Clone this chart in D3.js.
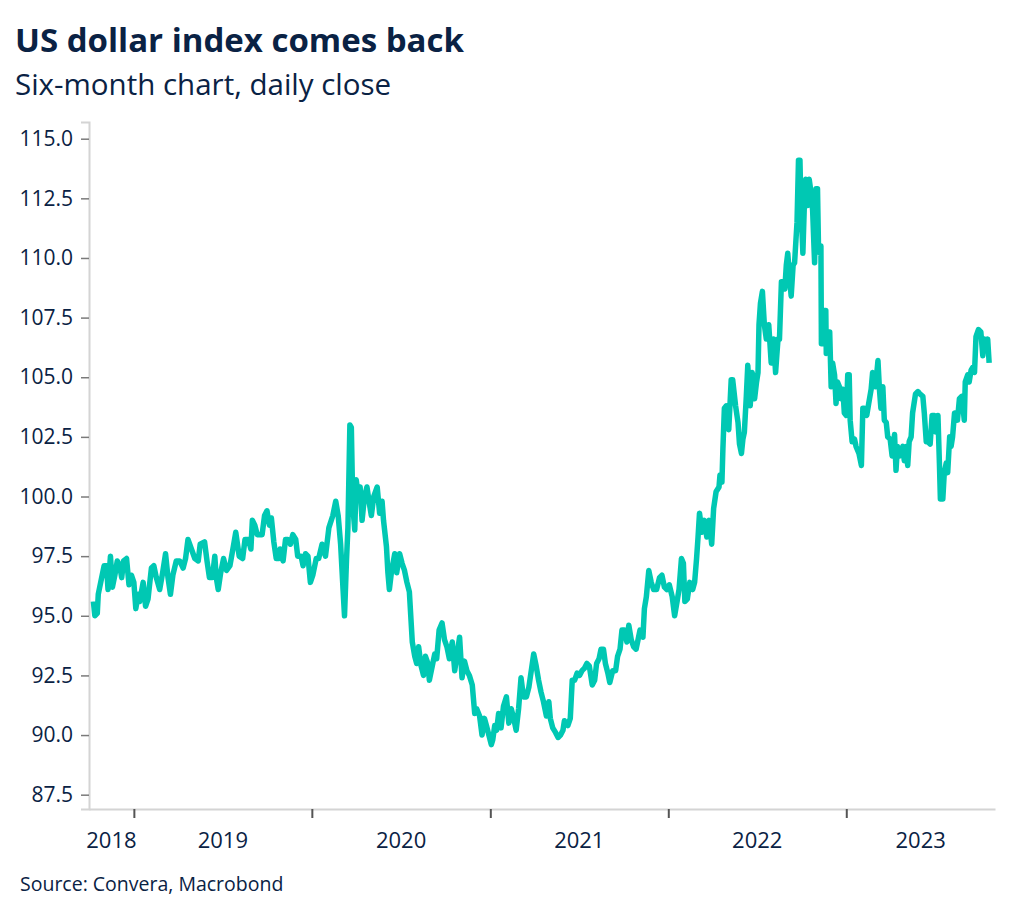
<!DOCTYPE html>
<html>
<head>
<meta charset="utf-8">
<script src="https://cdn.jsdelivr.net/npm/d3@7"></script>
<style>
  html, body { margin: 0; padding: 0; background: #ffffff; }
  svg { display: block; }
</style>
</head>
<body>
<svg id="chart" width="1024" height="916"></svg>
<script>
const title = "US dollar index comes back";
const subtitle = "Six-month chart, daily close";
const source = "Source: Convera, Macrobond";

const yTicks = [87.5, 90.0, 92.5, 95.0, 97.5, 100.0, 102.5, 105.0, 107.5, 110.0, 112.5, 115.0];
const xTickDates = ["2019-01-01", "2020-01-01", "2021-01-01", "2022-01-01", "2023-01-01"];
const xLabelYears = [2018, 2019, 2020, 2021, 2022, 2023];
const xDomain = ["2018-10-01", "2023-11-02"];
const yDomain = [86.9, 115.7];

const dates = [
"2018-10-10","2018-10-13","2018-10-18","2018-10-20","2018-10-27","2018-11-01","2018-11-06","2018-11-09","2018-11-14","2018-11-18",
"2018-11-23","2018-11-28","2018-12-03","2018-12-07","2018-12-11","2018-12-17","2018-12-22","2018-12-27","2019-01-01","2019-01-05",
"2019-01-10","2019-01-13","2019-01-20","2019-01-25","2019-01-30","2019-02-06","2019-02-11","2019-02-16","2019-02-23","2019-03-01",
"2019-03-07","2019-03-12","2019-03-17","2019-03-22","2019-03-29","2019-04-05","2019-04-12","2019-04-17","2019-04-22","2019-04-29",
"2019-05-06","2019-05-13","2019-05-17","2019-05-26","2019-05-31","2019-06-05","2019-06-11","2019-06-16","2019-06-19","2019-06-23",
"2019-06-28","2019-07-04","2019-07-10","2019-07-17","2019-07-24","2019-07-29","2019-08-05","2019-08-12","2019-08-17","2019-08-24",
"2019-08-29","2019-09-01","2019-09-06","2019-09-11","2019-09-16","2019-09-21","2019-09-26","2019-10-01","2019-10-06","2019-10-10",
"2019-10-15","2019-10-20","2019-10-26","2019-10-28","2019-11-03","2019-11-08","2019-11-13","2019-11-18","2019-11-23","2019-11-29",
"2019-12-03","2019-12-10","2019-12-14","2019-12-19","2019-12-24","2019-12-29","2020-01-03","2020-01-10","2020-01-15","2020-01-22",
"2020-01-29","2020-02-05","2020-02-13","2020-02-19","2020-02-24","2020-02-29","2020-03-05","2020-03-08","2020-03-12","2020-03-15",
"2020-03-19","2020-03-22","2020-03-25","2020-03-29","2020-04-01","2020-04-06","2020-04-09","2020-04-13","2020-04-18","2020-04-23",
"2020-04-28","2020-05-02","2020-05-07","2020-05-14","2020-05-19","2020-05-24","2020-05-27","2020-06-02","2020-06-05","2020-06-08",
"2020-06-12","2020-06-19","2020-06-23","2020-06-29","2020-07-04","2020-07-09","2020-07-14","2020-07-19","2020-07-25","2020-07-30",
"2020-08-03","2020-08-07","2020-08-12","2020-08-17","2020-08-21","2020-08-26","2020-08-29","2020-09-04","2020-09-09","2020-09-13",
"2020-09-18","2020-09-24","2020-09-29","2020-10-04","2020-10-09","2020-10-15","2020-10-20","2020-10-25","2020-10-30","2020-11-04",
"2020-11-09","2020-11-14","2020-11-19","2020-11-25","2020-11-30","2020-12-04","2020-12-10","2020-12-15","2020-12-20","2020-12-24",
"2020-12-29","2021-01-03","2021-01-06","2021-01-10","2021-01-14","2021-01-18","2021-01-23","2021-01-28","2021-02-03","2021-02-08",
"2021-02-13","2021-02-18","2021-02-23","2021-02-28","2021-03-05","2021-03-10","2021-03-16","2021-03-21","2021-03-26","2021-03-31",
"2021-04-05","2021-04-10","2021-04-15","2021-04-20","2021-04-26","2021-05-01","2021-05-04","2021-05-09","2021-05-15","2021-05-20",
"2021-05-25","2021-05-30","2021-06-02","2021-06-09","2021-06-14","2021-06-18","2021-06-23","2021-06-28","2021-07-03","2021-07-08",
"2021-07-13","2021-07-18","2021-07-23","2021-07-29","2021-08-03","2021-08-07","2021-08-12","2021-08-16","2021-08-21","2021-08-25",
"2021-08-30","2021-09-03","2021-09-09","2021-09-15","2021-09-19","2021-09-24","2021-09-28","2021-10-03","2021-10-08","2021-10-12",
"2021-10-17","2021-10-22","2021-10-27","2021-10-31","2021-11-04","2021-11-10","2021-11-13","2021-11-17","2021-11-22","2021-11-27",
"2021-12-02","2021-12-08","2021-12-14","2021-12-19","2021-12-24","2021-12-29","2022-01-03","2022-01-09","2022-01-14","2022-01-19",
"2022-01-23","2022-01-28","2022-02-01","2022-02-04","2022-02-09","2022-02-14","2022-02-20","2022-02-24","2022-02-28","2022-03-03",
"2022-03-06","2022-03-11","2022-03-16","2022-03-21","2022-03-26","2022-03-31","2022-04-04","2022-04-09","2022-04-15","2022-04-17",
"2022-04-21","2022-04-23","2022-04-26","2022-04-30","2022-05-05","2022-05-10","2022-05-13","2022-05-19","2022-05-24","2022-05-27",
"2022-05-31","2022-06-03","2022-06-06","2022-06-10","2022-06-13","2022-06-18","2022-06-22","2022-06-27","2022-07-01","2022-07-04",
"2022-07-06","2022-07-09","2022-07-13","2022-07-17","2022-07-21","2022-07-26","2022-07-31","2022-08-05","2022-08-09","2022-08-14",
"2022-08-17","2022-08-21","2022-08-24","2022-08-28","2022-08-31","2022-09-03","2022-09-07","2022-09-10","2022-09-14","2022-09-17",
"2022-09-22","2022-09-25","2022-09-28","2022-09-30","2022-10-04","2022-10-07","2022-10-10","2022-10-14","2022-10-17","2022-10-21",
"2022-10-24","2022-10-28","2022-10-31","2022-11-03","2022-11-05","2022-11-08","2022-11-10","2022-11-11","2022-11-13","2022-11-17",
"2022-11-20","2022-11-21","2022-11-26","2022-11-28","2022-12-01","2022-12-04","2022-12-08","2022-12-11","2022-12-14","2022-12-18",
"2022-12-21","2022-12-25","2022-12-28","2023-01-01","2023-01-04","2023-01-07","2023-01-09","2023-01-13","2023-01-18","2023-01-21",
"2023-01-27","2023-02-01","2023-02-04","2023-02-07","2023-02-12","2023-02-16","2023-02-21","2023-02-24","2023-03-02","2023-03-07",
"2023-03-10","2023-03-13","2023-03-17","2023-03-20","2023-03-24","2023-03-27","2023-04-01","2023-04-05","2023-04-10","2023-04-13",
"2023-04-16","2023-04-21","2023-04-27","2023-04-30","2023-05-04","2023-05-07","2023-05-10","2023-05-14","2023-05-17","2023-05-23",
"2023-05-28","2023-06-01","2023-06-07","2023-06-10","2023-06-14","2023-06-17","2023-06-22","2023-06-26","2023-07-01","2023-07-04",
"2023-07-08","2023-07-11","2023-07-13","2023-07-18","2023-07-21","2023-07-25","2023-07-28","2023-08-01","2023-08-04","2023-08-07",
"2023-08-11","2023-08-14","2023-08-17","2023-08-21","2023-08-26","2023-08-31","2023-09-02","2023-09-07","2023-09-10","2023-09-14",
"2023-09-17","2023-09-21","2023-09-24","2023-09-29","2023-10-04","2023-10-08","2023-10-11","2023-10-14","2023-10-18","2023-10-21"
];

const values = [
95.6,95.0,95.1,95.9,96.6,97.1,97.1,96.1,97.5,96.2,
96.7,97.3,97.1,96.6,97.3,97.4,96.3,96.7,96.4,95.3,
95.9,95.6,96.4,95.4,95.7,97.0,97.1,96.6,96.1,96.8,
97.6,96.6,95.9,96.7,97.3,97.3,97.0,97.4,98.2,97.8,
97.4,97.3,98.0,98.1,97.3,96.6,96.6,97.5,96.6,96.1,
96.8,97.4,96.9,97.1,97.9,98.5,97.5,97.4,98.2,98.2,
97.8,99.0,98.8,98.4,98.4,98.4,99.2,99.4,98.8,99.1,
98.1,97.4,97.4,97.8,97.3,98.2,98.2,98.0,98.4,98.2,
97.5,97.5,97.1,97.6,97.5,96.4,96.7,97.4,97.4,98.0,
97.5,98.7,99.2,99.8,99.2,98.0,96.1,95.0,97.3,98.7,
103.0,102.9,99.6,98.6,100.7,99.9,100.4,99.0,100.0,100.4,
99.7,99.2,100.0,100.4,99.3,99.8,99.0,97.9,96.8,96.1,
96.8,97.6,96.8,97.6,97.2,96.9,96.4,96.0,93.9,93.3,
93.0,93.7,92.9,92.5,93.3,93.0,92.3,92.9,93.4,93.2,
94.4,94.7,94.0,93.7,93.2,93.9,92.7,93.4,94.1,92.4,
93.1,92.7,92.5,92.1,90.9,91.1,90.8,90.0,90.7,90.4,
90.0,89.6,89.8,90.4,90.2,90.9,90.3,91.2,91.6,90.5,
91.1,90.7,90.2,91.1,92.4,91.6,91.6,92.0,92.7,93.4,
92.9,92.3,91.8,91.4,90.8,91.4,90.7,90.3,90.1,89.9,
90.0,90.2,90.6,90.4,90.7,92.3,92.3,92.6,92.5,92.7,
92.8,93.0,92.9,92.1,92.3,93.0,93.2,93.6,93.6,93.0,
92.6,92.2,92.7,92.7,93.3,93.6,94.4,94.4,93.9,94.6,
94.0,93.7,93.6,94.0,94.4,94.1,95.3,95.8,96.9,96.4,
96.1,96.1,96.6,96.7,96.2,96.1,96.3,95.8,95.0,95.6,
96.1,97.4,97.2,95.6,95.7,96.4,96.1,96.4,97.4,98.3,
99.3,98.5,99.0,98.3,99.0,98.0,99.5,100.2,100.4,100.9,
100.6,102.0,103.7,103.8,102.8,104.9,104.9,103.8,103.1,102.2,
101.8,102.4,102.7,104.2,105.5,103.8,105.2,104.1,104.8,105.2,
107.2,108.1,108.6,107.2,106.6,107.2,105.6,106.6,105.2,106.6,
106.6,109.0,109.0,108.7,109.7,110.2,109.1,108.4,109.7,109.8,
111.5,114.1,114.1,112.2,110.2,112.2,113.3,112.2,113.3,112.7,
112.0,109.8,112.9,112.9,110.5,110.2,110.5,106.4,106.4,107.8,
107.8,106.0,106.9,106.9,104.6,105.6,105.1,103.9,104.8,104.6,
104.1,104.5,103.5,103.4,105.1,105.1,103.2,102.3,102.4,102.1,
101.8,101.3,103.7,103.7,103.4,103.9,104.5,105.2,104.6,105.7,
104.5,103.7,104.6,103.2,103.1,102.5,102.4,101.7,102.6,101.1,
102.1,101.7,102.1,101.5,102.1,101.3,102.3,102.5,103.5,104.3,
104.4,104.3,104.2,103.5,102.3,102.3,102.2,103.4,103.4,102.7,
103.4,101.4,99.9,99.9,101.0,101.4,101.0,102.5,102.1,102.5,
103.5,103.5,103.2,104.1,104.2,103.2,104.8,105.1,104.8,105.3,
105.4,105.2,106.7,107.0,106.9,105.9,106.6,106.2,106.6,105.6
];

const parse = d3.utcParse("%Y-%m-%d");
const data = dates.map((d, i) => ({ date: parse(d), value: values[i] }));

const textColor = "#0a2244";
const lineColor = "#00c8b3";
const font = "'Open Sans', 'Noto Sans', sans-serif";

const svg = d3.select("#chart");
svg.append("rect").attr("width", 1024).attr("height", 916).attr("fill", "#ffffff");

const x = d3.scaleUtc().domain(xDomain.map(parse)).range([89, 995]);
const y = d3.scaleLinear().domain(yDomain).range([809, 122]);

// Title & subtitle
svg.append("text").attr("x", 15).attr("y", 52)
  .attr("font-family", font).attr("font-weight", 700).attr("font-size", 33)
  .attr("fill", textColor).text(title);
svg.append("text").attr("x", 15).attr("y", 95)
  .attr("font-family", font).attr("font-weight", 400).attr("font-size", 29.5)
  .attr("fill", textColor).text(subtitle);

// Y axis
const yAxis = d3.axisLeft(y).tickValues(yTicks).tickFormat(d3.format(".1f"))
  .tickSize(8).tickPadding(8);
const gy = svg.append("g").attr("transform", "translate(89,0)").call(yAxis);
gy.select(".domain").attr("stroke", "#d4d4d4").attr("stroke-width", 2);
gy.selectAll(".tick line").attr("stroke", "#7a7a7a").attr("stroke-width", 1.5);
gy.selectAll(".tick text").attr("font-family", font).attr("font-size", 21)
  .attr("fill", textColor);

// X axis
const xAxis = d3.axisBottom(x).tickValues(xTickDates.map(parse)).tickFormat("")
  .tickSize(9).tickSizeOuter(0);
const gx = svg.append("g").attr("transform", "translate(0,809)").call(xAxis);
gx.select(".domain").attr("stroke", "#d4d4d4").attr("stroke-width", 2);
gx.selectAll(".tick line").attr("stroke", "#555555").attr("stroke-width", 2);

// Year labels centred in the visible part of each year
const d0 = x.domain()[0], d1 = x.domain()[1];
svg.append("g").selectAll("text").data(xLabelYears).join("text")
  .attr("x", yr => {
    const s = new Date(Math.max(Date.UTC(yr, 0, 1), d0));
    const e = new Date(Math.min(Date.UTC(yr + 1, 0, 1), d1));
    return (x(s) + x(e)) / 2;
  })
  .attr("y", 848)
  .attr("text-anchor", "middle")
  .attr("font-family", font).attr("font-size", 22)
  .attr("fill", textColor)
  .text(d => d);

// Line
const line = d3.line().x(d => x(d.date)).y(d => y(d.value));
svg.append("path").datum(data)
  .attr("fill", "none")
  .attr("stroke", lineColor)
  .attr("stroke-width", 5.5)
  .attr("stroke-linejoin", "round")
  .attr("d", line);

// Source
svg.append("text").attr("x", 20).attr("y", 891)
  .attr("font-family", font).attr("font-size", 19.5)
  .attr("fill", textColor).text(source);
</script>
</body>
</html>
